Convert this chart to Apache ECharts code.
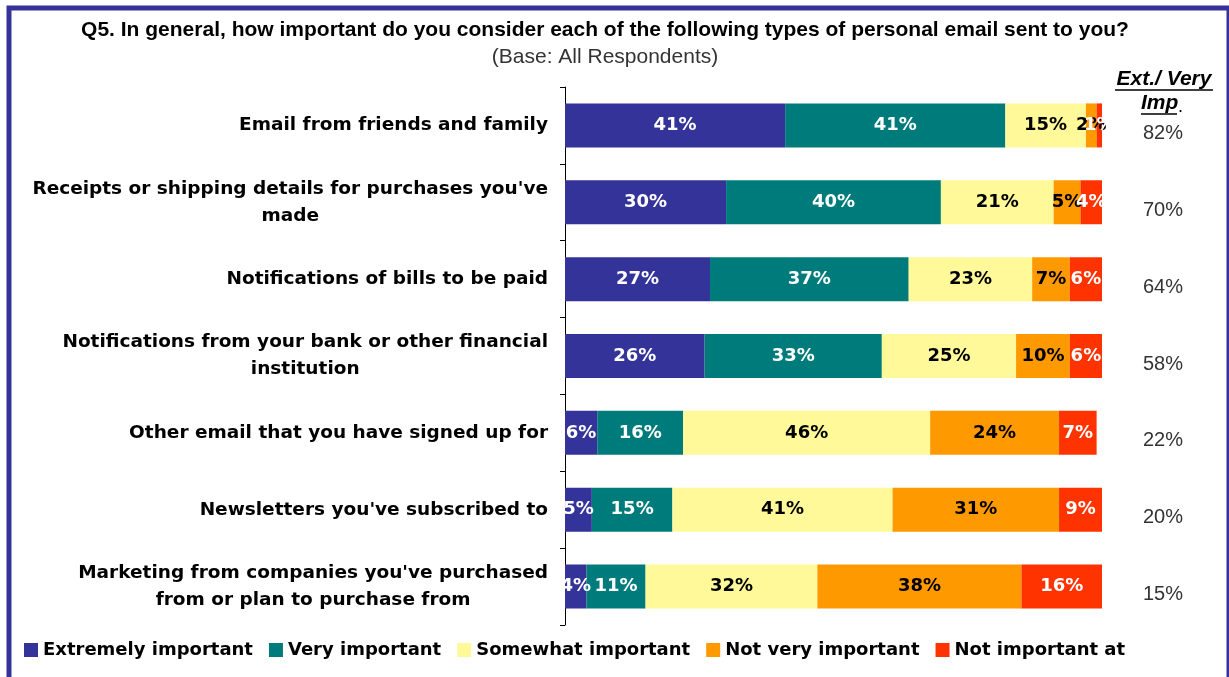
<!DOCTYPE html>
<html>
<head>
<meta charset="utf-8">
<style>
  html, body { margin: 0; padding: 0; background: #ffffff; }
  #chart { width: 1229px; height: 677px; }
</style>
<script src="https://cdn.jsdelivr.net/npm/echarts@6/dist/echarts.min.js"></script>
</head>
<body>
<div id="chart"></div>
<script>
// Survey question: importance of each type of personal email
const categories = [
  'Email from friends and family',
  "Receipts or shipping details for purchases you've\nmade",
  'Notifications of bills to be paid',
  'Notifications from your bank or other financial\ninstitution',
  'Other email that you have signed up for',
  "Newsletters you've subscribed to",
  'Marketing from companies you\'ve purchased\nfrom or plan to purchase from'
];

const seriesNames = [
  'Extremely important',
  'Very important',
  'Somewhat important',
  'Not very important',
  'Not important at all'
];

// Share of respondents (%) per answer, one array per answer
const extremelyImportant = [41, 30, 27, 26, 6, 5, 4];
const veryImportant      = [41, 40, 37, 33, 16, 15, 11];
const somewhatImportant  = [15, 21, 23, 25, 46, 41, 32];
const notVeryImportant   = [2, 5, 7, 10, 24, 31, 38];
const notImportantAtAll  = [1, 4, 6, 6, 7, 9, 16];

// Extremely + Very important, as printed in the side column
const extVeryImportant = [82, 70, 64, 58, 22, 20, 15];

const palette = ['#333399', '#007B7B', '#FFF999', '#FF9900', '#FF3300'];
const labelColors = ['#ffffff', '#ffffff', '#000000', '#000000', '#ffffff'];
const values = [extremelyImportant, veryImportant, somewhatImportant, notVeryImportant, notImportantAtAll];

const boldFont = 'DejaVu Sans';
const plainFont = 'Liberation Sans';

const chart = echarts.init(document.getElementById('chart'), null, { renderer: 'canvas' });

const series = seriesNames.map((name, i) => ({
  name: name,
  type: 'bar',
  stack: 'total',
  barWidth: 44,
  data: values[i],
  itemStyle: { color: palette[i] },
  label: {
    show: true,
    position: 'inside',
    formatter: '{c}%',
    color: labelColors[i],
    fontFamily: boldFont,
    fontWeight: 'bold',
    fontSize: 18
  }
}));

const option = {
  backgroundColor: '#ffffff',
  animation: false,
  title: {
    text: 'Q5. In general, how important do you consider each of the following types of personal email sent to you?',
    subtext: '(Base: All Respondents)',
    left: 600,
    top: 15,
    textAlign: 'center',
    itemGap: 6,
    textStyle: { fontFamily: plainFont, fontWeight: 'bold', fontSize: 21, color: '#000000' },
    subtextStyle: { fontFamily: plainFont, fontWeight: 'normal', fontSize: 21, color: '#333333' }
  },
  legend: {
    left: 24,
    top: 641,
    padding: 0,
    itemWidth: 14,
    itemHeight: 14,
    itemGap: 16,
    icon: 'rect',
    selectedMode: false,
    data: seriesNames.map((n, i) => i === 4
      ? { name: n, textStyle: { width: 173, overflow: 'truncate', ellipsis: '' } }
      : { name: n }),
    textStyle: { fontFamily: boldFont, fontWeight: 'bold', fontSize: 18, color: '#000000' }
  },
  grid: { left: 565, top: 87, width: 537, height: 538, containLabel: false },
  xAxis: {
    type: 'value',
    min: 0,
    max: 100,
    show: false
  },
  yAxis: [
    {
      type: 'category',
      inverse: true,
      data: categories,
      axisLine: { show: true, lineStyle: { color: '#000000', width: 1 } },
      axisTick: { show: true, length: 5, lineStyle: { color: '#000000' } },
      axisLabel: {
        margin: 17,
        color: '#000000',
        fontFamily: boldFont,
        fontWeight: 'bold',
        fontSize: 18.5,
        lineHeight: 27,
        formatter: (v) => v.split('\n').map(l => '{c|' + l + '}').join('\n'),
        rich: {
          c: {
            align: 'center',
            fontFamily: boldFont,
            fontWeight: 'bold',
            fontSize: 18.5,
            lineHeight: 27,
            color: '#000000'
          }
        }
      }
    },
    {
      type: 'category',
      inverse: true,
      position: 'right',
      data: extVeryImportant.map(v => v + '%'),
      axisLine: { show: false },
      axisTick: { show: false },
      axisLabel: {
        margin: 41,
        color: '#333333',
        fontFamily: plainFont,
        fontSize: 20,
        verticalAlign: 'top',
        lineHeight: 16
      }
    }
  ],
  series: series,
  graphic: [
    {
      type: 'rect',
      shape: { x: 9, y: 8, width: 1220, height: 720 },
      style: { fill: null, stroke: '#333399', lineWidth: 5 },
      silent: true
    },
    {
      type: 'text',
      x: 1164, y: 79,
      style: {
        text: 'Ext./ Very',
        fontFamily: plainFont, fontWeight: 'bold', fontStyle: 'italic', fontSize: 21,
        fill: '#000000', align: 'center', verticalAlign: 'middle'
      }
    },
    {
      type: 'line',
      shape: { x1: 1115, y1: 90, x2: 1213, y2: 90 },
      style: { stroke: '#000000', lineWidth: 1.5 }
    },
    {
      type: 'text',
      x: 1141, y: 103,
      style: {
        text: 'Imp',
        fontFamily: plainFont, fontWeight: 'bold', fontStyle: 'italic', fontSize: 21,
        fill: '#000000', align: 'left', verticalAlign: 'middle'
      }
    },
    {
      type: 'line',
      shape: { x1: 1141, y1: 114, x2: 1177, y2: 114 },
      style: { stroke: '#000000', lineWidth: 1.5 }
    },
    {
      type: 'text',
      x: 1178, y: 107,
      style: {
        text: '.',
        fontFamily: plainFont, fontSize: 18,
        fill: '#000000', align: 'left', verticalAlign: 'middle'
      }
    }
  ]
};

chart.setOption(option);
</script>
</body>
</html>
